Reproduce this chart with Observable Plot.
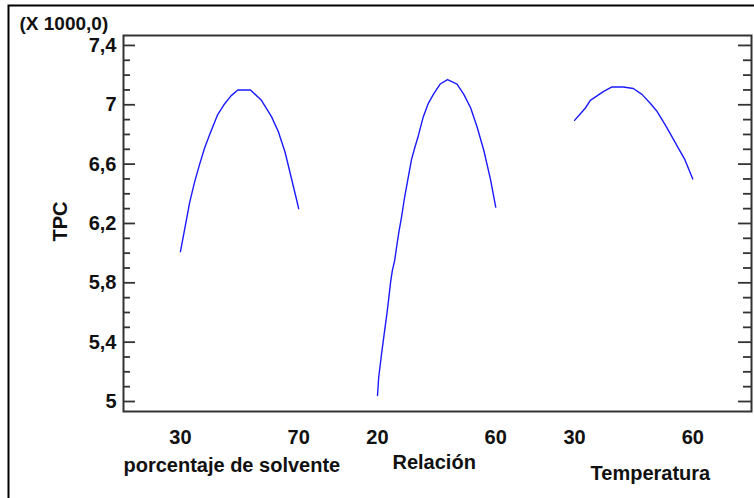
<!DOCTYPE html>
<html><head><meta charset="utf-8">
<script src="https://cdn.jsdelivr.net/npm/d3@7"></script>
<script src="https://cdn.jsdelivr.net/npm/@observablehq/plot@0.6"></script>
<style>body{margin:0;background:#fff}</style>
</head><body><div id="chart"></div>
<script>
// ---- data ----
const factors = ["porcentaje de solvente", "Relación", "Temperatura"];
const factorLow = [30, 20, 30];
const factorHigh = [70, 60, 60];
const xTickValues = [[30, 70], [20, 60], [30, 60]];

const solventeX = [30, 31.7, 33.1, 34.8, 36.5, 38.2, 39.9, 42.5, 44.7, 47.1, 49.4, 51.5, 53.7, 57.4, 60.8, 63.1, 65.4, 67.6, 69.3, 70];
const solventeY = [6.01, 6.19, 6.34, 6.48, 6.60, 6.71, 6.80, 6.93, 7.00, 7.06, 7.10, 7.10, 7.10, 7.03, 6.92, 6.82, 6.68, 6.50, 6.36, 6.30];

const relacionX = [20, 20.4, 21.3, 22.1, 22.7, 23.3, 23.9, 24.4, 25.0, 25.8, 26.6, 27.3, 28.1, 29.2, 30.4, 31.5, 32.6, 33.8, 35.5, 37.2, 38.9, 41.2, 43.7, 46.9, 49.2, 51.5, 53.7, 56.0, 58.3, 60];
const relacionY = [5.04, 5.16, 5.31, 5.43, 5.52, 5.61, 5.71, 5.80, 5.88, 5.95, 6.06, 6.15, 6.24, 6.38, 6.51, 6.63, 6.71, 6.79, 6.92, 7.01, 7.07, 7.14, 7.17, 7.14, 7.07, 6.98, 6.85, 6.69, 6.49, 6.31];

const tempX = [30, 31.5, 32.8, 34.0, 35.7, 37.4, 39.5, 42.4, 44.9, 47.1, 49.2, 50.8, 52.9, 54.6, 56.3, 58.0, 60];
const tempY = [6.895, 6.94, 6.98, 7.03, 7.06, 7.09, 7.12, 7.12, 7.11, 7.07, 7.01, 6.96, 6.87, 6.79, 6.71, 6.63, 6.50];

const yMajorTicks = [5, 5.4, 5.8, 6.2, 6.6, 7, 7.4];
const yTickLabels = ["5", "5,4", "5,8", "6,2", "6,6", "7", "7,4"];
const yMinorTicks = [5.1, 5.2, 5.3, 5.5, 5.6, 5.7, 5.9, 6.0, 6.1, 6.3, 6.4, 6.5, 6.7, 6.8, 6.9, 7.1, 7.2, 7.3];
const yTitle = "TPC";
const yMultiplier = "(X 1000,0)";

// ---- layout helpers ----
const W = 754, H = 498;
const mL = 123, mR = 3, mT = 35, mB = 87;
const frameW = W - mL - mR;
const FONT = "Liberation Sans, Arial, sans-serif";
const INK = "#111";
const AX = "#333";

// map factor i value v to a shared horizontal coordinate
const pos = (i, v) => i + 0.2 + 0.6 * (v - factorLow[i]) / (factorHigh[i] - factorLow[i]);

const curves = [
  solventeX.map((x, k) => ({u: pos(0, x), v: solventeY[k]})),
  relacionX.map((x, k) => ({u: pos(1, x), v: relacionY[k]})),
  tempX.map((x, k) => ({u: pos(2, x), v: tempY[k]}))
];

const xTicks = xTickValues.flatMap((vals, i) => vals.map(v => ({u: pos(i, v), label: String(v)})));
const yLabels = yMajorTicks.map((v, k) => ({v, label: yTickLabels[k]}));
const titles = factors.map((f, i) => ({u: pos(i, factorLow[i]), label: f, i}));
const titleDx = [-57, 15, 16];
const titleDy = [54, 51, 62];

const txt = {fontFamily: FONT, fontWeight: "bold", fontSize: 20, fill: INK};

const chart = Plot.plot({
  width: W, height: H,
  marginLeft: mL, marginRight: mR, marginTop: mT, marginBottom: mB,
  style: {background: "#fff", overflow: "hidden"},
  x: {domain: [-0.089, 3.098], axis: null},
  y: {domain: [4.9326, 7.467], axis: null},
  marks: [
    // outer border
    Plot.frame({insetLeft: -115, insetTop: -30, insetRight: -20, insetBottom: -100, stroke: "#000", strokeWidth: 2}),
    // curves
    ...curves.map(c => Plot.line(c, {x: "u", y: "v", stroke: "#1a1aff", strokeWidth: 1.4})),
    // ticks inside frame (left and right)
    Plot.tickY(yMajorTicks, {y: d => d, insetRight: frameW - 12, stroke: AX, strokeWidth: 1.8}),
    Plot.tickY(yMinorTicks, {y: d => d, insetRight: frameW - 7, stroke: AX, strokeWidth: 1.8}),
    Plot.tickY(yMajorTicks, {y: d => d, insetLeft: frameW - 13, stroke: AX, strokeWidth: 1.8}),
    Plot.tickY(yMinorTicks, {y: d => d, insetLeft: frameW - 8, stroke: AX, strokeWidth: 1.8}),
    Plot.frame({stroke: AX, strokeWidth: 2}),
    // y tick labels
    Plot.text(yLabels, {y: "v", text: "label", frameAnchor: "left", dx: -7, textAnchor: "end", lineAnchor: "middle", ...txt}),
    // x tick labels
    Plot.text(xTicks, {x: "u", text: "label", frameAnchor: "bottom", dy: 26, lineAnchor: "middle", ...txt}),
    // x titles
    ...titles.map(t => Plot.text([t], {x: "u", text: "label", frameAnchor: "bottom", textAnchor: "start", lineAnchor: "middle", dx: titleDx[t.i], dy: titleDy[t.i], ...txt})),
    // y title
    Plot.text([yTitle], {text: d => d, frameAnchor: "left", dx: -63, dy: 18, rotate: -90, lineAnchor: "middle", ...txt}),
    // multiplier
    Plot.text([yMultiplier], {text: d => d, frameAnchor: "top-left", dx: -104, dy: -12, textAnchor: "start", lineAnchor: "middle", ...txt, fontSize: 19})
  ]
});
document.getElementById("chart").appendChild(chart);
</script>
</body></html>
